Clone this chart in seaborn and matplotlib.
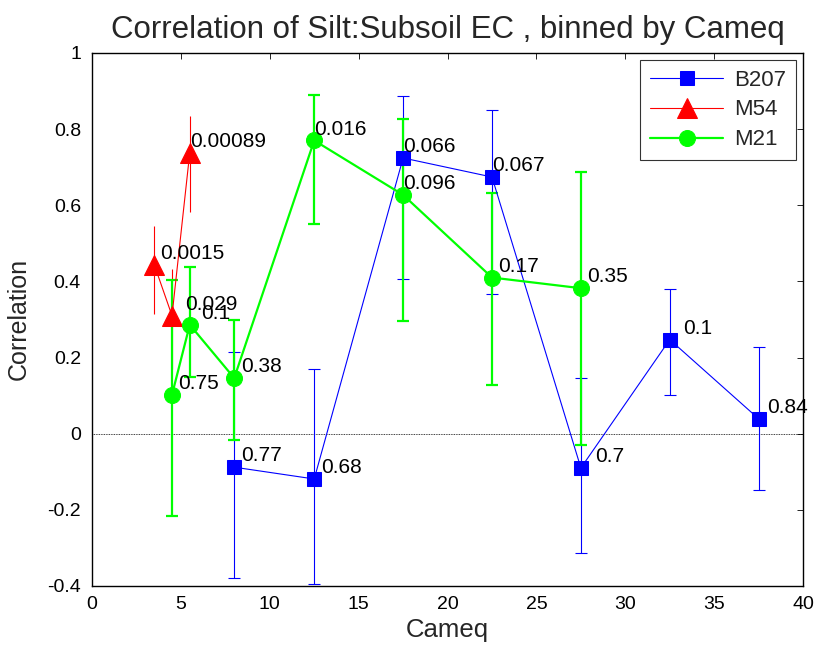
import matplotlib
matplotlib.use("Agg")
import matplotlib.pyplot as plt
import seaborn as sns
import pandas as pd

# Bin centres (Cameq), correlation per bin, and lower/upper confidence bounds
b207_x = [8, 12.5, 17.5, 22.5, 27.5, 32.5, 37.5]
b207_r = [-0.088, -0.119, 0.724, 0.674, -0.090, 0.247, 0.039]
b207_lo = [-0.379, -0.394, 0.406, 0.367, -0.313, 0.102, -0.149]
b207_hi = [0.214, 0.170, 0.887, 0.850, 0.146, 0.380, 0.227]
b207_p = ["0.77", "0.68", "0.066", "0.067", "0.7", "0.1", "0.84"]

m54_x = [3.5, 4.5, 5.5]
m54_r = [0.444, 0.310, 0.738]
m54_lo = [0.315, 0.170, 0.583]
m54_hi = [0.546, 0.433, 0.833]
m54_p = ["0.0015", "0.029", "0.00089"]

m21_x = [4.5, 5.5, 8, 12.5, 17.5, 22.5, 27.5]
m21_r = [0.102, 0.286, 0.146, 0.770, 0.627, 0.410, 0.382]
m21_lo = [-0.217, 0.150, -0.016, 0.550, 0.295, 0.127, -0.031]
m21_hi = [0.404, 0.437, 0.299, 0.890, 0.826, 0.632, 0.687]
m21_p = ["0.75", "0.1", "0.38", "0.016", "0.096", "0.17", "0.35"]

x_ticks = [0, 5, 10, 15, 20, 25, 30, 35, 40]
y_ticks = [-0.4, -0.2, 0, 0.2, 0.4, 0.6, 0.8, 1]
y_tick_labels = ["-0.4", "-0.2", "0", "0.2", "0.4", "0.6", "0.8", "1"]

sns.set_style("white")
plt.rcParams["font.family"] = ["Liberation Sans", "DejaVu Sans"]

fig = plt.figure(figsize=(8.17, 6.45), dpi=100)
ax = fig.add_axes([0.1126, 0.0915, 0.8704, 0.8265])

# horizontal dotted reference at zero correlation
ax.axhline(0, color="black", lw=0.6, ls=(0, (1, 1)), zorder=1)

series = [
    dict(name="B207", x=b207_x, r=b207_r, lo=b207_lo, hi=b207_hi, p=b207_p,
         color="#0000ff", marker="s", ms=10, lw=0.8, elw=0.8, cap=4,
         dx=[7, 7, 0, 0, 14, 13, 8]),
    dict(name="M54", x=m54_x, r=m54_r, lo=m54_lo, hi=m54_hi, p=m54_p,
         color="#ff0000", marker="^", ms=14, lw=0.8, elw=0.8, cap=0,
         dx=[6, 13, 0]),
    dict(name="M21", x=m21_x, r=m21_r, lo=m21_lo, hi=m21_hi, p=m21_p,
         color="#00ff00", marker="o", ms=11.5, lw=1.6, elw=1.6, cap=4,
         dx=[6, 11, 7, 0, 0, 6, 6]),
]

for s in series:
    df = pd.DataFrame({"Cameq": s["x"], "Correlation": s["r"]})
    yerr = [[r - lo for r, lo in zip(s["r"], s["lo"])],
            [hi - r for r, hi in zip(s["r"], s["hi"])]]
    ax.errorbar(s["x"], s["r"], yerr=yerr, fmt="none", ecolor=s["color"],
                elinewidth=s["elw"], capsize=s["cap"], capthick=s["elw"],
                zorder=2)
    sns.lineplot(data=df, x="Cameq", y="Correlation", ax=ax, sort=False,
                 color=s["color"], lw=s["lw"], marker=s["marker"],
                 markersize=s["ms"], markeredgecolor=s["color"],
                 markerfacecolor=s["color"], label=s["name"], zorder=3)
    for xv, rv, txt, d in zip(s["x"], s["r"], s["p"], s["dx"]):
        ax.annotate(txt, (xv, rv), xytext=(d * 0.72, 8.2),
                    textcoords="offset points", ha="left", va="center",
                    fontsize=15, color="black", zorder=5)

ax.set_xlim(0, 40)
ax.set_ylim(-0.4, 1)
ax.set_xticks(x_ticks)
ax.set_xticklabels([str(t) for t in x_ticks])
ax.set_yticks(y_ticks)
ax.set_yticklabels(y_tick_labels)
ax.tick_params(axis="both", direction="in", length=4, width=0.6,
               top=True, right=True, labelsize=14, colors="black")
ax.tick_params(axis="x", pad=7)
ax.tick_params(axis="y", pad=8)

for sp in ax.spines.values():
    sp.set_visible(True)
    sp.set_color("black")
    sp.set_linewidth(1.0)

ax.set_xlabel("Cameq", fontsize=18.5, labelpad=4)
ax.set_ylabel("Correlation", fontsize=18, labelpad=12)
ax.set_title("Correlation of Silt:Subsoil EC , binned by Cameq",
             fontsize=22.5, pad=11)

leg = ax.legend(loc="upper right", fontsize=16, handlelength=3.3,
                frameon=True, fancybox=False, borderaxespad=0.3,
                labelspacing=0.4, handletextpad=0.5, borderpad=0.45)
leg.get_frame().set_edgecolor("black")
leg.get_frame().set_linewidth(0.8)

fig.savefig("out.png", dpi=100, facecolor="white")
